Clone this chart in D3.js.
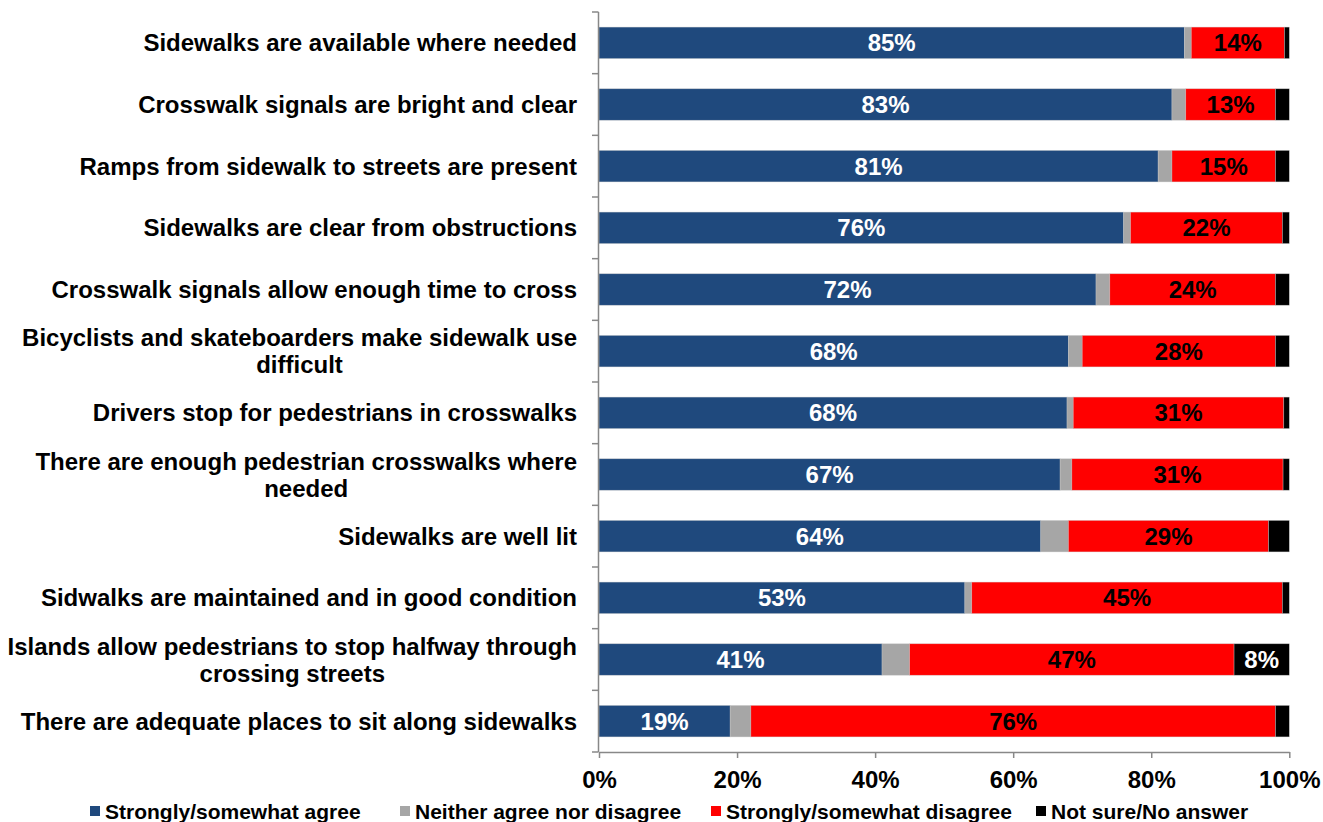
<!DOCTYPE html>
<html><head><meta charset="utf-8">
<script src="https://cdn.jsdelivr.net/npm/d3@7/dist/d3.min.js"></script>
<style>
html,body{margin:0;padding:0;background:#fff;}
text{font-family:"Liberation Sans",Arial,sans-serif;font-weight:bold;}
</style></head>
<body>
<svg id="chart" width="1323" height="822"></svg>
<script>
const categories = [
  "Sidewalks are available where needed",
  "Crosswalk signals are bright and clear",
  "Ramps from sidewalk to streets are present",
  "Sidewalks are clear from obstructions",
  "Crosswalk signals allow enough time to cross",
  "Bicyclists and skateboarders make sidewalk use difficult",
  "Drivers stop for pedestrians in crosswalks",
  "There are enough pedestrian crosswalks where needed",
  "Sidewalks are well lit",
  "Sidwalks are maintained and in good condition",
  "Islands allow pedestrians to stop halfway through crossing streets",
  "There are adequate places to sit along sidewalks"
];
const agree    = [84.8, 83, 81, 76, 72, 68, 67.8, 66.8, 64, 53, 41, 19];
const neither  = [1.0,  2,  2,  1,  2,  2,  0.9,  1.7,  4,  1,  4,  3];
const disagree = [13.5, 13, 15, 22, 24, 28, 30.5, 30.6, 29, 45, 47, 76];
const notsure  = [0.7,  2,  2,  1,  2,  2,  0.8,  0.9,  3,  1,  8,  2];
const seriesNames = ["Strongly/somewhat agree","Neither agree nor disagree","Strongly/somewhat disagree","Not sure/No answer"];
const xTicks = [0,20,40,60,80,100];

const colors = ["#1F497D","#A6A6A6","#FF0000","#000000"];
const labelColors = ["#fff", null, "#000", "#fff"];
const labelMin = [0, 999, 0, 5];

const svg = d3.select("#chart");
const x = d3.scaleLinear().domain([0,100]).range([599,1289.3]);
const y = d3.scaleBand().domain(categories).range([12,752]).paddingInner(0.49).paddingOuter(0.245);

const seriesVals = [agree, neither, disagree, notsure];
const rows = categories.map((c,i)=>({cat:c, vals: seriesVals.map(s=>s[i])}));

// bars
rows.forEach(r=>{
  let acc = 0;
  r.vals.forEach((v,k)=>{
    const x0 = x(acc), x1 = x(acc+v);
    svg.append("rect").attr("x",x0).attr("y",y(r.cat)).attr("width",x1-x0).attr("height",y.bandwidth())
      .attr("fill",colors[k]).attr("stroke","rgba(200,200,200,0.6)").attr("stroke-width",0.6);
    if (labelColors[k] && v >= labelMin[k]) {
      svg.append("text").attr("x",(x0+x1)/2).attr("y",y(r.cat)+y.bandwidth()/2)
        .attr("dy","0.36em").attr("text-anchor","middle").attr("font-size",24)
        .attr("fill",labelColors[k]).text(Math.round(v)+"%");
    }
    acc += v;
  });
});

// y axis
const step = y.step();
const yTop = 12, yBot = 752;
svg.append("line").attr("x1",598.5).attr("x2",598.5).attr("y1",yTop).attr("y2",yBot).attr("stroke","#888").attr("stroke-width",1.5);
for (let i=0;i<=categories.length;i++){
  const yy = yTop + i*step;
  svg.append("line").attr("x1",592).attr("x2",598.5).attr("y1",yy).attr("y2",yy).attr("stroke","#888").attr("stroke-width",1.5);
}
// x axis
const xa = svg.append("g").attr("transform",`translate(0,${yBot})`)
  .call(d3.axisBottom(x).tickValues(xTicks).tickFormat(d=>d+"%").tickSize(6).tickSizeOuter(0));
xa.select(".domain").attr("stroke","#888").attr("stroke-width",1.5);
xa.selectAll(".tick line").attr("stroke","#888").attr("stroke-width",1.5);
xa.selectAll(".tick text").attr("font-size",24).attr("font-family","Liberation Sans, Arial, sans-serif")
  .attr("font-weight","bold").attr("fill","#000").attr("y",27).attr("dy","0.36em");

// category labels with wrapping (block right-aligned, lines centred within block)
const maxW = 576, rightX = 577;
const probe = svg.append("text").attr("font-size",24).attr("font-weight","bold");
const measure = s => { probe.text(s); return probe.node().getComputedTextLength(); };
categories.forEach(c=>{
  const cy = y(c)+y.bandwidth()/2;
  const words = c.split(" ");
  let lines = [], cur = [];
  words.forEach(w=>{
    const test = cur.concat([w]).join(" ");
    if (measure(test) > maxW && cur.length){ lines.push(cur.join(" ")); cur=[w]; }
    else cur.push(w);
  });
  lines.push(cur.join(" "));
  const blockW = d3.max(lines, measure);
  const cx = rightX - blockW/2;
  const t = svg.append("text").attr("text-anchor","middle").attr("font-size",24).attr("fill","#000");
  const lh = 27;
  lines.forEach((ln,j)=>{
    t.append("tspan").attr("x",cx).attr("y",cy + (j-(lines.length-1)/2)*lh).attr("dy","0.36em").text(ln);
  });
});
probe.remove();

// legend
const legX = [90, 400, 711, 1036];
seriesNames.forEach((n,k)=>{
  svg.append("rect").attr("x",legX[k]).attr("y",806).attr("width",10).attr("height",10).attr("fill",colors[k]);
  svg.append("text").attr("x",legX[k]+15).attr("y",811).attr("dy","0.36em").attr("font-size",21).attr("fill","#000").text(n);
});
</script>
</body></html>
